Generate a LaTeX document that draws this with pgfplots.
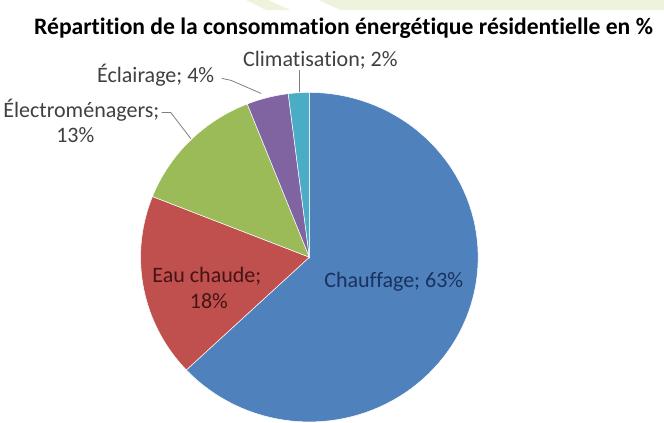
\documentclass[border=0pt]{standalone}
\usepackage{pgfplots}
\pgfplotsset{compat=1.18}
\usepackage{fontspec}
\setmainfont{Carlito}[Ligatures={NoCommon}]
\definecolor{cBlue}{HTML}{4F81BD}
\definecolor{cRed}{HTML}{C0504D}
\definecolor{cGreen}{HTML}{9BBB59}
\definecolor{cPurple}{HTML}{8064A2}
\definecolor{cCyan}{HTML}{4BACC6}
\definecolor{lblgray}{HTML}{404040}
\definecolor{leader}{HTML}{7F7F7F}
\definecolor{band}{HTML}{EDF3DD}
% shares (%)
\def\vChauffage{63}
\def\vEau{18}
\def\vElec{13}
\def\vEcl{4}
\def\vClim{2}
\pgfmathsetmacro\aA{90-3.6*\vChauffage}
\pgfmathsetmacro\aB{\aA-3.6*\vEau}
\pgfmathsetmacro\aC{\aB-3.6*\vElec}
\pgfmathsetmacro\aD{\aC-3.6*\vEcl}
\pgfmathsetmacro\aE{\aD-3.6*\vClim}
\begin{document}
\begin{tikzpicture}
\begin{axis}[width=664bp,height=424bp,scale only axis,
  xmin=0,xmax=664,ymin=0,ymax=424,hide axis,samples=90]
% decorative band at top
\addplot[fill=band,draw=none] coordinates {(320,424) (664,424) (664,414) (342,414)} -- cycle;
\addplot[fill=band,draw=none] coordinates {(248,424) (270,424) (292,414) (268,414)} -- cycle;
% pie slices
\addplot[fill=cBlue,draw=white,line width=0.5pt,domain=\aA:90,variable=\t]
  ({311+168*cos(t)},{168+164*sin(t)}) -- (axis cs:311,168) -- cycle;
\addplot[fill=cRed,draw=white,line width=0.5pt,domain=\aB:\aA,variable=\t]
  ({311+168*cos(t)},{168+164*sin(t)}) -- (axis cs:311,168) -- cycle;
\addplot[fill=cGreen,draw=white,line width=0.5pt,domain=\aC:\aB,variable=\t]
  ({311+168*cos(t)},{168+164*sin(t)}) -- (axis cs:311,168) -- cycle;
\addplot[fill=cPurple,draw=white,line width=0.5pt,domain=\aD:\aC,variable=\t]
  ({311+168*cos(t)},{168+164*sin(t)}) -- (axis cs:311,168) -- cycle;
\addplot[fill=cCyan,draw=white,line width=0.5pt,domain=\aE:\aD,variable=\t]
  ({311+168*cos(t)},{168+164*sin(t)}) -- (axis cs:311,168) -- cycle;
% leader lines
\addplot[leader,line width=0.8pt] coordinates {(301,354) (301,332)};
\addplot[leader,line width=0.8pt] coordinates {(224,346) (233,344) (263,331)};
\addplot[leader,line width=0.8pt] coordinates {(164,312) (173,312) (193,286)};
% texts
\node[font=\fontsize{23.6}{27}\selectfont\bfseries] at (axis cs:345,396) {Répartition de la consommation énergétique résidentielle en \%};
\node[font=\fontsize{22}{25}\selectfont,text=lblgray] at (axis cs:322,364) {Climatisation; 2\%};
\node[font=\fontsize{22}{25}\selectfont,text=lblgray] at (axis cs:158,349) {Éclairage; 4\%};
\node[font=\fontsize{22}{25}\selectfont,text=lblgray] at (axis cs:84,314) {Électroménagers;};
\node[font=\fontsize{22}{25}\selectfont,text=lblgray] at (axis cs:78,290) {13\%};
\node[font=\fontsize{22}{25}\selectfont,text={rgb,255:red,70;green,20;blue,20}] at (axis cs:209,149) {Eau chaude;};
\node[font=\fontsize{22}{25}\selectfont,text={rgb,255:red,70;green,20;blue,20}] at (axis cs:211,124) {18\%};
\node[font=\fontsize{22}{25}\selectfont,text={rgb,255:red,25;green,50;blue,95}] at (axis cs:395,144) {Chauffage; 63\%};
\end{axis}
\end{tikzpicture}
\end{document}
